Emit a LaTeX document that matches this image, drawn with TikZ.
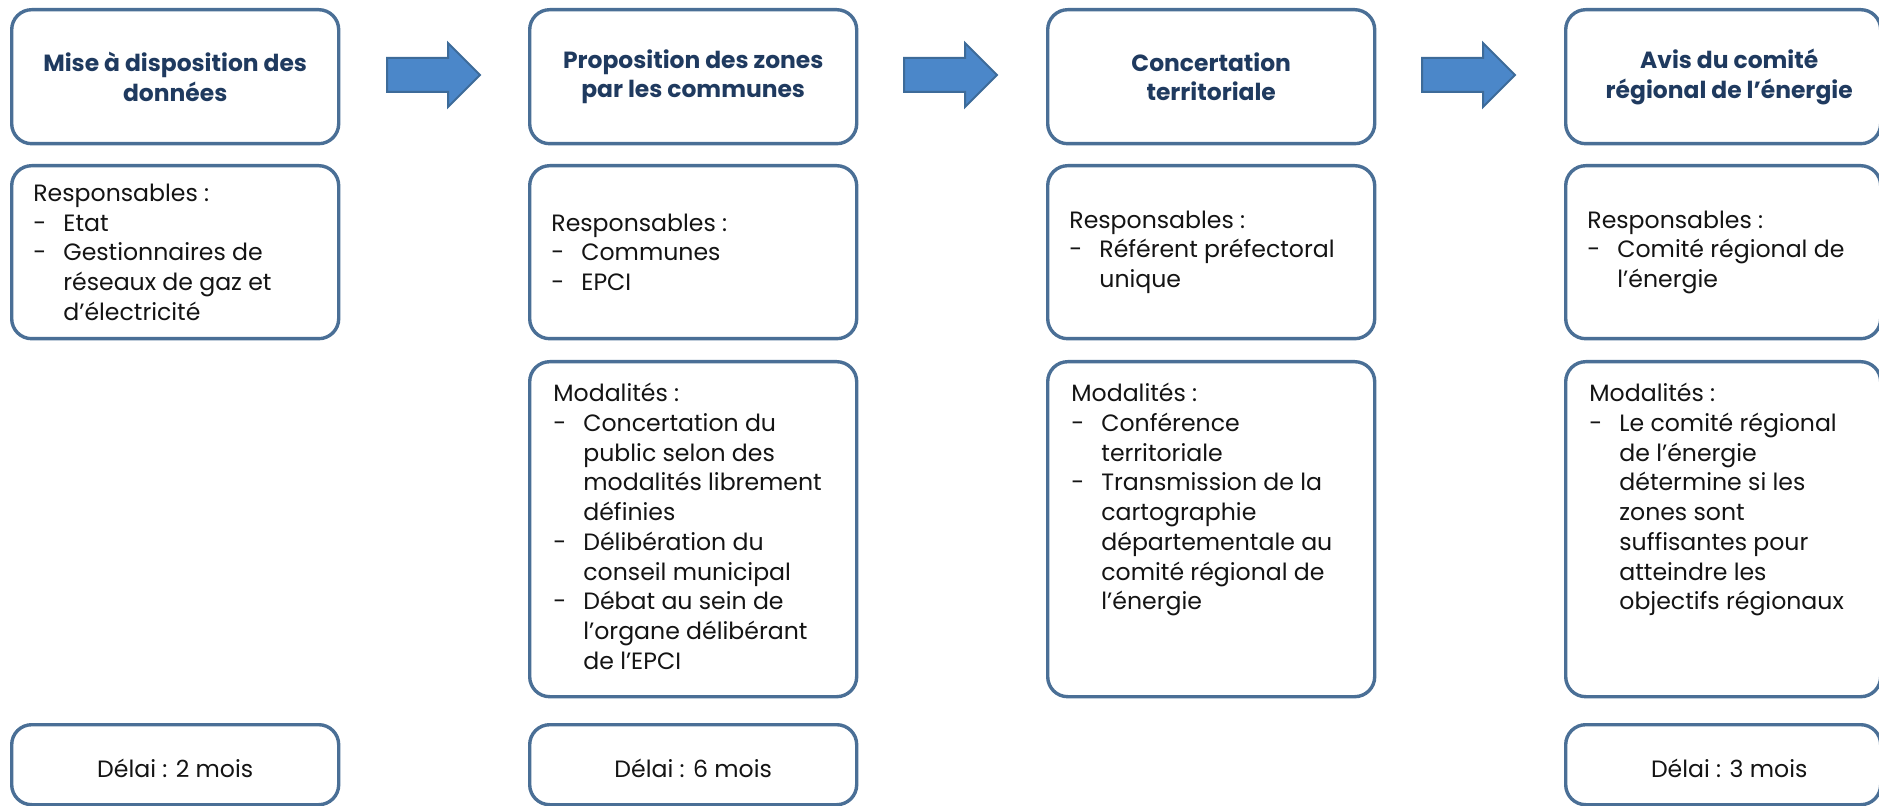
\documentclass[tikz,border=0pt]{standalone}
\usepackage{fontspec}
\setmainfont{Poppins}
\definecolor{bordc}{HTML}{4A6F96}
\definecolor{titc}{HTML}{1F3A5F}
\definecolor{arrf}{HTML}{4B87C9}
\definecolor{arrd}{HTML}{3D6B99}
\definecolor{txtc}{HTML}{141414}
\newcommand\itm{\makebox[15pt][l]{-}}
\newcommand\ind{\hspace*{15pt}}
\begin{document}
\begin{tikzpicture}[x=0.5pt,y=-0.5pt,
  box/.style={draw=bordc,line width=1.7pt,rounded corners=10pt,fill=white,minimum width=163.5pt,inner sep=0pt,anchor=north west},
  lastcol/.style={minimum width=157.5pt},
  titlebox/.style={box,minimum height=67pt},
  respbox/.style={box,minimum height=86.5pt},
  modbox/.style={box,minimum height=167.5pt},
  delbox/.style={box,minimum height=40pt},
  ttl/.style={font=\fontsize{11.7}{14.85}\selectfont\bfseries,text=titc,align=center,inner sep=0pt},
  body/.style={font=\fontsize{11.8}{14.85}\selectfont,text=txtc,align=left,inner sep=0pt},
  bigarrow/.style={fill=arrf,draw=arrd,line width=1pt,line join=miter}
]
\useasboundingbox (0,0) rectangle (1879,806);
\clip (0,0) rectangle (1879,806);

% column 1
\node[titlebox] (t1) at (10,8) {};
\node[ttl] (t1x) at (t1.center) {Mise à disposition des\\données};
\node[respbox] (r1) at (10,164) {};
\node[body,anchor=west] (r1x) at ([xshift=11.5pt]r1.west) {Responsables :\\\itm Etat\\\itm Gestionnaires de\\\ind réseaux de gaz et\\\ind d’électricité};
\node[delbox] (d1) at (10,723) {};
\node[body] (d1x) at ([yshift=-2pt]d1.center) {Délai : 2 mois};

% column 2
\node[titlebox] (t2) at (528,8) {};
\node[ttl] (t2x) at (t2.center) {Proposition des zones\\par les communes};
\node[respbox] (r2) at (528,164) {};
\node[body,anchor=west] (r2x) at ([xshift=11.5pt]r2.west) {Responsables :\\\itm Communes\\\itm EPCI};
\node[modbox] (m2) at (528,360) {};
\node[body,anchor=north west] (m2x) at (553,383) {Modalités :\\\itm Concertation du\\\ind public selon des\\\ind modalités librement\\\ind définies\\\itm Délibération du\\\ind conseil municipal\\\itm Débat au sein de\\\ind l’organe délibérant\\\ind de l’EPCI};
\node[delbox] (d2) at (528,723) {};
\node[body] (d2x) at ([yshift=-2pt]d2.center) {Délai : 6 mois};

% column 3
\node[titlebox] (t3) at (1046,8) {};
\node[ttl] (t3x) at (t3.center) {Concertation\\territoriale};
\node[respbox] (r3) at (1046,164) {};
\node[body,anchor=west] (r3x) at ([xshift=11.5pt]r3.west) {Responsables :\\\itm Référent préfectoral\\\ind unique};
\node[modbox] (m3) at (1046,360) {};
\node[body,anchor=north west] (m3x) at (1071,383) {Modalités :\\\itm Conférence\\\ind territoriale\\\itm Transmission de la\\\ind cartographie\\\ind départementale au\\\ind comité régional de\\\ind l’énergie};

% column 4
\node[titlebox,lastcol] (t4) at (1564,8) {};
\node[ttl] (t4x) at ([xshift=3pt]t4.center) {Avis du comité\\régional de l’énergie};
\node[respbox,lastcol] (r4) at (1564,164) {};
\node[body,anchor=west] (r4x) at ([xshift=11.5pt]r4.west) {Responsables :\\\itm Comité régional de\\\ind l’énergie};
\node[modbox,lastcol] (m4) at (1564,360) {};
\node[body,anchor=north west] (m4x) at (1589,383) {Modalités :\\\itm Le comité régional\\\ind de l’énergie\\\ind détermine si les\\\ind zones sont\\\ind suffisantes pour\\\ind atteindre les\\\ind objectifs régionaux};
\node[delbox,lastcol] (d4) at (1564,723) {};
\node[body] (d4x) at ([xshift=3pt,yshift=-2pt]d4.center) {Délai : 3 mois};

% arrows
\coordinate (a1) at (387,75);
\coordinate (a2) at (904,75);
\coordinate (a3) at (1422,75);
\foreach \a in {a1,a2,a3}{
  \draw[bigarrow,shift={(\a)}] (0,-17) -- (61,-17) -- (61,-32) -- (93,0) -- (61,32) -- (61,17) -- (0,17) -- cycle;
}
\end{tikzpicture}
\end{document}
